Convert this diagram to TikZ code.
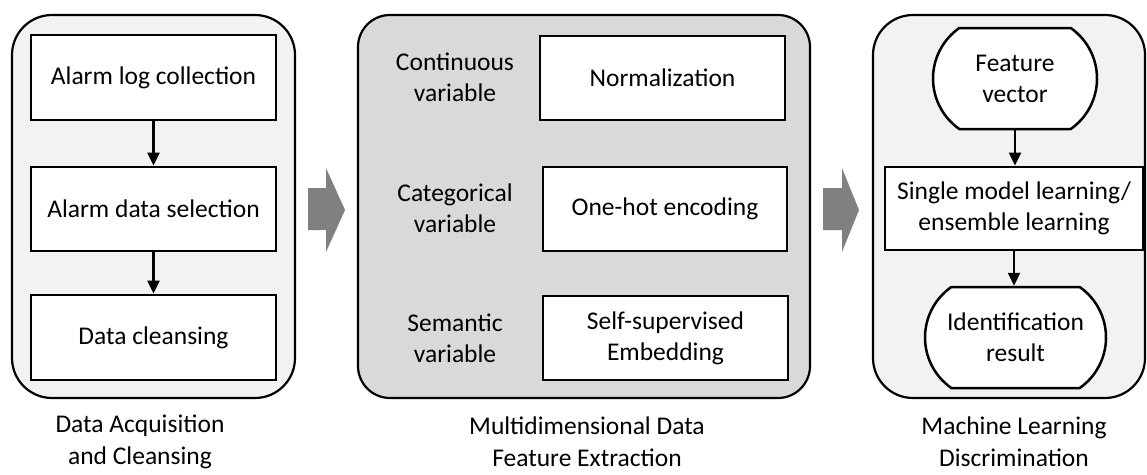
\documentclass[tikz,border=0pt]{standalone}
\usepackage{fontspec}
\setmainfont{Carlito}
\usetikzlibrary{arrows.meta,shapes.misc}
\definecolor{lightp}{HTML}{F2F2F2}
\definecolor{midp}{HTML}{D9D9D9}
\definecolor{garrowc}{HTML}{808080}
\begin{document}
\begin{tikzpicture}[x=1pt,y=-1pt,
  font=\fontsize{25.5}{31}\selectfont,
  panel/.style={draw=black, line width=2.2pt},
  box/.style={draw=black, fill=white, line width=2.8pt, align=center, inner sep=2pt},
  term/.style={draw=black, fill=white, line width=2.5pt, align=center, inner sep=2pt,
    rounded rectangle, rounded rectangle arc length=110},
  lbl/.style={align=center, inner sep=0pt},
  conn/.style={line width=2.2pt, -{Triangle[width=12pt,length=13pt]}},
  blockarrow/.style={fill=garrowc, draw=none},
  caption/.style={lbl, font=\fontsize{25.5}{32}\selectfont}]
\useasboundingbox (0,0) rectangle (1147,474);

% panels
\draw[panel, fill=lightp, rounded corners=40pt] (12,15) rectangle (295,398);
\draw[panel, fill=midp, rounded corners=32pt] (358,15) rectangle (810,398);
\draw[panel, fill=lightp, rounded corners=40pt] (873,15) rectangle (1145,398);

% left column
\node[box, minimum width=245pt, minimum height=85pt] (a1) at (153.5,77.5) {Alarm log collection};
\node[box, minimum width=245pt, minimum height=84pt] (a2) at (153.5,209) {Alarm data selection};
\node[box, minimum width=245pt, minimum height=85pt] (a3) at (153.5,337.5) {Data cleansing};
\draw[conn] (a1) -- (a2);
\draw[conn] (a2) -- (a3);

% middle column
\node[lbl] (m1) at (455,77) {Continuous\\variable};
\node[lbl] (m2) at (455,208) {Categorical\\variable};
\node[lbl] (m3) at (455,338) {Semantic\\variable};
\node[box, minimum width=245pt, minimum height=84pt] (n1) at (662.5,78) {Normalization};
\node[box, minimum width=244pt, minimum height=84pt] (n2) at (665,209) {One-hot encoding};
\node[box, minimum width=245pt, minimum height=84pt] (n3) at (665.5,338) {Self-supervised\\Embedding};

% right column
\node[term, minimum width=168pt, minimum height=101pt] (fv) at (1015,78.5) {Feature\\vector};
\node[box, minimum width=258pt, minimum height=83pt] (sm) at (1014,208.5) {Single model learning/\\ensemble learning};
\node[term, minimum width=185pt, minimum height=101pt] (ir) at (1015.5,337.5) {Identification\\result};
\draw[conn] (fv.south) -- (fv.south |- sm.north);
\draw[conn] (sm.south) -- (sm.south |- ir.north);

% block arrows
\fill[blockarrow] (308,188) -- (326,188) -- (326,168) -- (345,210) -- (326,252) -- (326,230) -- (308,230) -- cycle;
\fill[blockarrow] (823,188) -- (842,188) -- (842,168) -- (859,210) -- (842,252) -- (842,230) -- (823,230) -- cycle;

% captions
\node[caption] (c1) at (140,442) {Data Acquisition\\and Cleansing};
\node[caption] (c2) at (587,442) {Multidimensional Data\\Feature Extraction};
\node[caption] (c3) at (1014,442) {Machine Learning\\Discrimination};
\end{tikzpicture}
\end{document}
